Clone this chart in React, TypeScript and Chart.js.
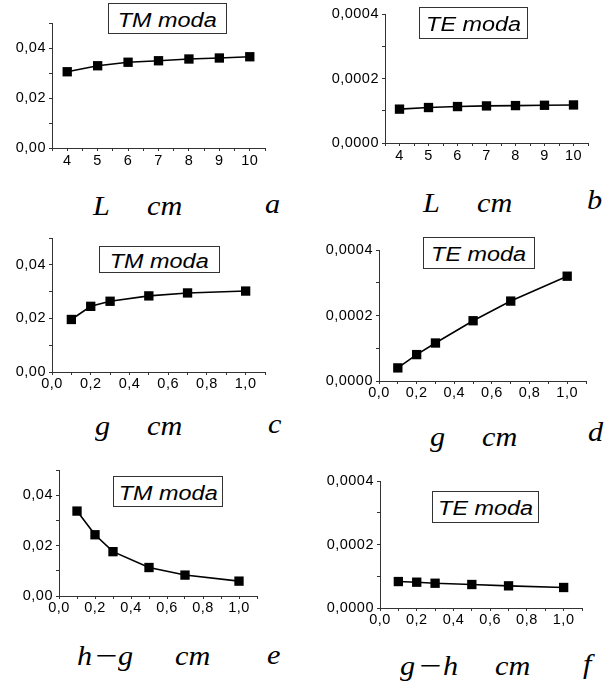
import React, { useEffect, useRef } from 'react';
import { Chart, registerables } from 'chart.js';

Chart.register(...registerables);

// ---------- data ----------
const lengthL = [4, 5, 6, 7, 8, 9, 10];
const tmVsL = [0.0305, 0.0329, 0.0343, 0.0349, 0.0356, 0.036, 0.0365];
const teVsL = [0.000105, 0.00011, 0.000113, 0.000115, 0.000116, 0.000117, 0.000118];

const gapG = [0.1, 0.2, 0.3, 0.5, 0.7, 1.0];
const tmVsG = [0.0196, 0.0245, 0.0264, 0.0284, 0.0295, 0.0302];
const teVsG = [0.00004, 0.0000806, 0.000116, 0.000184, 0.000244, 0.00032];
const tmVsHG = [0.0337, 0.0243, 0.0176, 0.0113, 0.0083, 0.0059];
const teVsGH = [0.0000833, 0.0000813, 0.000078, 0.000074, 0.0000698, 0.0000646];

const xTicksL = [4, 5, 6, 7, 8, 9, 10];
const xTicksG = [0, 0.2, 0.4, 0.6, 0.8, 1.0];
const yTicksTM = [0, 0.02, 0.04];
const yTicksTE = [0, 0.0002, 0.0004];

// ---------- layout ----------
const YW = 62;
const PT = 12;
const PR = 20;
const XH = 28;
const SANS = '"Liberation Sans", Arial, sans-serif';
const SERIF = '"Liberation Serif", "Times New Roman", serif';

type PanelCfg = {
  xs: number[];
  ys: number[];
  plot: [number, number, number, number]; // left, top, right, bottom
  xMin: number; xMax: number; xStep: number; xMajors: number[]; xDec: number;
  yMax: number; yStep: number; yMajors: number[]; yDec: number;
  xPad: number;
};

const panels: PanelCfg[] = [
  { xs: lengthL, ys: tmVsL, plot: [52, 23, 265, 148], xMin: 3.5, xMax: 10.5, xStep: 0.5, xMajors: xTicksL, xDec: 0, yMax: 0.05, yStep: 0.01, yMajors: yTicksTM, yDec: 2, xPad: 1 },
  { xs: lengthL, ys: teVsL, plot: [385, 14, 588, 143], xMin: 3.5, xMax: 10.5, xStep: 0.5, xMajors: xTicksL, xDec: 0, yMax: 0.0004, yStep: 0.0001, yMajors: yTicksTE, yDec: 4, xPad: 1 },
  { xs: gapG, ys: tmVsG, plot: [52, 238, 265, 372], xMin: 0, xMax: 1.1, xStep: 0.1, xMajors: xTicksG, xDec: 1, yMax: 0.05, yStep: 0.01, yMajors: yTicksTM, yDec: 2, xPad: 0 },
  { xs: gapG, ys: teVsG, plot: [379, 250, 586, 381], xMin: 0, xMax: 1.1, xStep: 0.1, xMajors: xTicksG, xDec: 1, yMax: 0.0004, yStep: 0.0001, yMajors: yTicksTE, yDec: 4, xPad: 0 },
  { xs: gapG, ys: tmVsHG, plot: [59, 470, 257, 596], xMin: 0, xMax: 1.1, xStep: 0.1, xMajors: xTicksG, xDec: 1, yMax: 0.05, yStep: 0.01, yMajors: yTicksTM, yDec: 2, xPad: 0 },
  { xs: gapG, ys: teVsGH, plot: [380, 481, 582, 608], xMin: 0, xMax: 1.1, xStep: 0.1, xMajors: xTicksG, xDec: 1, yMax: 0.0004, yStep: 0.0001, yMajors: yTicksTE, yDec: 4, xPad: 0 },
];

const titles = [
  { text: 'TM moda', box: [108, 3, 227, 34] },
  { text: 'TE moda', box: [419, 7, 528, 39] },
  { text: 'TM moda', box: [99, 246, 220, 273] },
  { text: 'TE moda', box: [423, 237, 535, 269] },
  { text: 'TM moda', box: [113, 476, 223, 507] },
  { text: 'TE moda', box: [432, 491, 539, 523] },
];

const axisWords: { t: string; x: number; b: number; sx?: number }[] = [
  { t: 'L', x: 93, b: 215 }, { t: 'cm', x: 147, b: 215 }, { t: 'a', x: 265, b: 213 },
  { t: 'L', x: 423, b: 212 }, { t: 'cm', x: 477, b: 212 }, { t: 'b', x: 587, b: 209 },
  { t: 'g', x: 95, b: 435 }, { t: 'cm', x: 147, b: 435 }, { t: 'c', x: 268, b: 433 },
  { t: 'g', x: 430, b: 446 }, { t: 'cm', x: 482, b: 446 }, { t: 'd', x: 588, b: 441 },
  { t: 'h', x: 77, b: 665 }, { t: '\u2212', x: 93, b: 665, sx: 1.4 }, { t: 'g', x: 118, b: 665 }, { t: 'cm', x: 175, b: 665 }, { t: 'e', x: 267, b: 664 },
  { t: 'g', x: 400, b: 675 }, { t: '\u2212', x: 417, b: 675, sx: 1.4 }, { t: 'h', x: 443, b: 675 }, { t: 'cm', x: 495, b: 675 }, { t: 'f', x: 583, b: 673 },
];

const spacingPlugin = {
  id: 'letterSpacing',
  beforeDraw(chart: any) {
    (chart.ctx as any).letterSpacing = '0.5px';
  },
};

const fmt = (v: number, d: number) => v.toFixed(d).replace('.', ',');
const pick = (majors: number[], v: number, step: number) =>
  majors.find((m) => Math.abs(m - v) < step * 1e-3);

function Panel({ cfg }: { cfg: PanelCfg }) {
  const ref = useRef<HTMLCanvasElement>(null);
  const [l, t, r, b] = cfg.plot;
  const w = YW + (r - l) + PR;
  const h = PT + (b - t) + XH;
  useEffect(() => {
    const chart = new Chart(ref.current as HTMLCanvasElement, {
      type: 'scatter',
      data: {
        datasets: [
          {
            data: cfg.xs.map((x, i) => ({ x, y: cfg.ys[i] })),
            showLine: true,
            borderColor: '#000',
            borderWidth: 1.6,
            pointStyle: 'rect',
            pointRadius: 6.6,
            pointHoverRadius: 6.6,
            pointBackgroundColor: '#000',
            pointBorderColor: '#000',
            pointBorderWidth: 0,
            clip: false as any,
          },
        ],
      },
      options: {
        responsive: false,
        animation: false,
        events: [],
        layout: { padding: { left: 0, top: PT, right: PR, bottom: 0 } },
        plugins: { legend: { display: false }, tooltip: { enabled: false } },
        scales: {
          x: {
            type: 'linear',
            min: cfg.xMin,
            max: cfg.xMax,
            afterFit: (s: any) => { s.height = XH; },
            ticks: {
              stepSize: cfg.xStep,
              autoSkip: false,
              maxRotation: 0,
              minRotation: 0,
              padding: cfg.xPad,
              color: '#000',
              font: { family: SANS, size: 14.5 },
              callback: (v: any) => {
                const m = pick(cfg.xMajors, Number(v), cfg.xStep);
                return m === undefined ? '' : fmt(m, cfg.xDec);
              },
            },
            grid: { drawOnChartArea: false, tickLength: 3, color: '#333', tickColor: '#333' },
            border: { display: true, color: '#333', width: 1 },
          },
          y: {
            type: 'linear',
            min: 0,
            max: cfg.yMax,
            afterFit: (s: any) => { s.width = YW; },
            ticks: {
              stepSize: cfg.yStep,
              autoSkip: false,
              padding: 3,
              color: '#000',
              font: { family: SANS, size: 14.5 },
              callback: (v: any) => {
                const m = pick(cfg.yMajors, Number(v), cfg.yStep);
                return m === undefined ? '' : fmt(m, cfg.yDec);
              },
            },
            grid: { drawOnChartArea: false, tickLength: 3, color: '#333', tickColor: '#333' },
            border: { display: true, color: '#333', width: 1 },
          },
        },
      } as any,
      plugins: [spacingPlugin],
    });
    return () => chart.destroy();
  }, []);
  return (
    <canvas
      ref={ref}
      width={w}
      height={h}
      style={{ position: 'absolute', left: l - YW, top: t - PT, width: w, height: h }}
    />
  );
}

export default function App() {
  const size = 28;
  return (
    <div style={{ position: 'absolute', left: 0, top: 0, width: 613, height: 686, background: '#fff', overflow: 'hidden' }}>
      {panels.map((p, i) => (
        <Panel key={i} cfg={p} />
      ))}
      {titles.map((tt, i) => (
        <div
          key={'t' + i}
          style={{
            position: 'absolute',
            left: tt.box[0],
            top: tt.box[1],
            width: tt.box[2] - tt.box[0],
            height: tt.box[3] - tt.box[1],
            boxSizing: 'border-box',
            border: '1px solid #333',
            background: '#fff',
            display: 'flex',
            alignItems: 'center',
            justifyContent: 'center',
            paddingTop: 2,
          }}
        >
          <span
            style={{
              display: 'inline-block',
              fontFamily: SANS,
              fontStyle: 'italic',
              fontSize: 20,
              lineHeight: '20px',
              color: '#000',
              transform: 'scaleX(1.17)',
              whiteSpace: 'nowrap',
            }}
          >
            {tt.text}
          </span>
        </div>
      ))}
      {axisWords.map((wd, i) => (
        <div
          key={'w' + i}
          style={{
            position: 'absolute',
            left: wd.x,
            top: wd.b - 0.8375 * size,
            fontFamily: SERIF,
            fontStyle: 'italic',
            fontSize: size,
            lineHeight: size + 'px',
            whiteSpace: 'nowrap',
            color: '#000',
            transform: `scaleX(${wd.sx ?? 1.08})`,
            transformOrigin: 'left center',
          }}
        >
          {wd.t}
        </div>
      ))}
    </div>
  );
}
